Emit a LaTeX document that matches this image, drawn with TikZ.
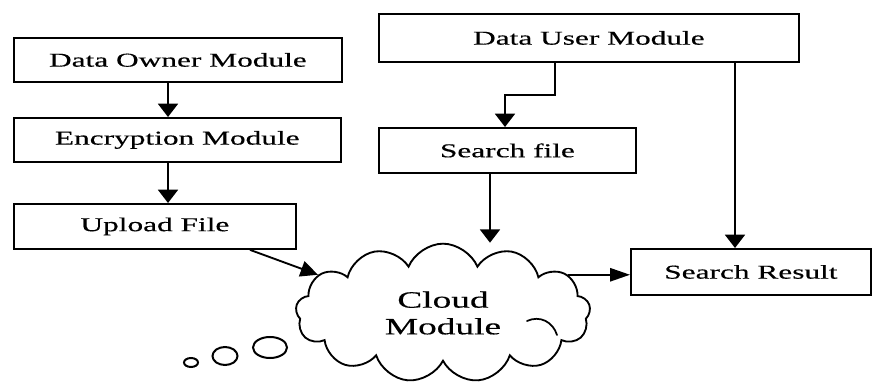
\documentclass[tikz,border=0pt]{standalone}
\usepackage{fontspec}
\setmainfont{Liberation Serif}[FakeStretch=1.6,FakeBold=0.4]
\usetikzlibrary{shapes.symbols,arrows.meta}

\begin{document}
\begin{tikzpicture}[x=0.75pt,y=-0.75pt,
  box/.style={draw,line width=1.4pt,anchor=north west,inner sep=0pt,
              font=\fontsize{14.7pt}{17pt}\selectfont},
  link/.style={line width=1.4pt},
  vhead/.style={link,-{Triangle[length=10pt,width=15pt]}},
  hhead/.style={link,-{Triangle[length=15pt,width=10pt]}},
  dhead/.style={link,-{Triangle[length=13pt,width=12pt]}},
  puffcloud/.style={draw,cloud,cloud puffs=13,cloud puff arc=135,
              cloud ignores aspect,line width=1.4pt,
              minimum width=221pt,minimum height=104pt,inner sep=0pt,align=center,
              font=\fontsize{17.5pt}{20pt}\selectfont},
  crease/.style={line width=1.3pt,line cap=round},
  bubble/.style={line width=1.5pt}]
\useasboundingbox (0,0) rectangle (876,385);

% owner side
\node[box,minimum width=246pt,minimum height=33pt] (do) at (13,37) {Data Owner Module};
\node[box,minimum width=245pt,minimum height=33pt] (enc) at (13,117) {Encryption Module};
\node[box,minimum width=211.5pt,minimum height=33.75pt] (up) at (13,203) {Upload File};

% user side
\node[box,minimum width=315pt,minimum height=36pt] (du) at (378,13) {Data User Module};
\node[box,minimum width=192.75pt,minimum height=33.75pt] (sf) at (378,127) {Search file};
\node[box,minimum width=180pt,minimum height=34.5pt] (sr) at (630,248) {Search Result};

% cloud with its trailing bubbles
\node[puffcloud] (cl) at (443,313) {Cloud\\Module};
\draw[bubble] (270,347.5) ellipse [x radius=17,y radius=10.5];
\draw[bubble] (225,356) ellipse [x radius=12.5,y radius=9];
\draw[bubble] (191,362.5) ellipse [x radius=7,y radius=4.5];

% inner crease of the lower right puff
\draw[crease] (527,321) .. controls (540,315) and (553,322) .. (557,335);

% connectors
\draw[vhead] (do.south -| 168,0) -- (enc.north -| 168,0);
\draw[vhead] (enc.south -| 168,0) -- (up.north -| 168,0);
\draw[dhead] (up.south -| 250,0) -- (cl.163);
\draw[vhead] (du.south -| 555,0) -- ++(0,32) -| (sf.north -| 505,0);
\draw[vhead] (sf.south -| 490,0) -- (cl.north -| 490,0);
\draw[vhead] (du.south -| 735,0) -- (sr.north -| 735,0);
\draw[hhead] (cl.17) -- (cl.17 -| sr.west);
\end{tikzpicture}
\end{document}
